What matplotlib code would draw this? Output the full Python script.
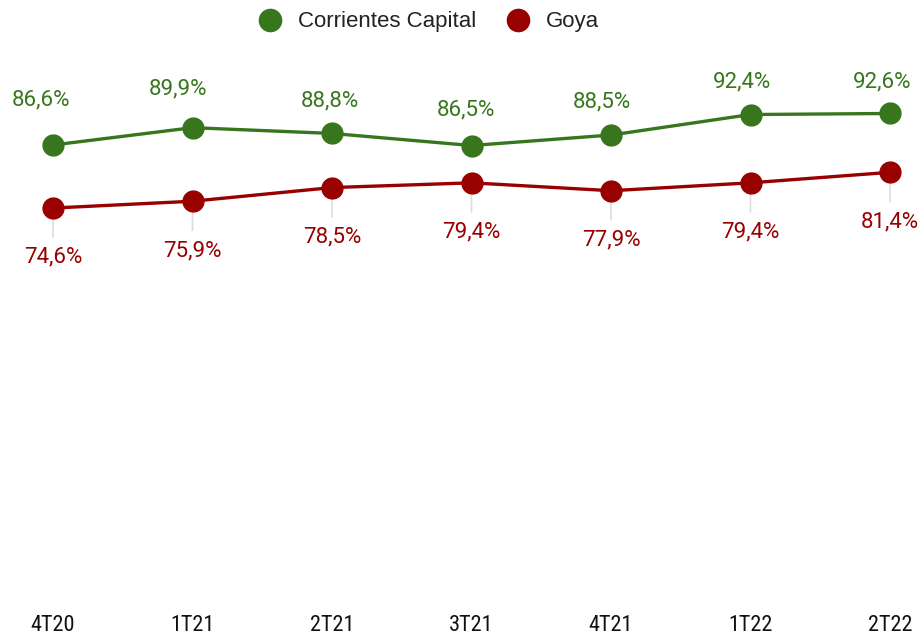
import matplotlib.pyplot as plt
from matplotlib.lines import Line2D
from matplotlib import font_manager

quarters = ['4T20', '1T21', '2T21', '3T21', '4T21', '1T22', '2T22']
capital = [86.6, 89.9, 88.8, 86.5, 88.5, 92.4, 92.6]
goya = [74.6, 75.9, 78.5, 79.4, 77.9, 79.4, 81.4]

green = '#38761d'
red = '#990000'

# label nudges (pixels) for the green labels, as placed in the original
green_dx = [-12, -15, -2, -6, -9, -8, -8]
green_dy = [45, 39, 33, 36, 33, 33, 32]

plt.rcParams['font.family'] = ['Roboto', 'DejaVu Sans']

names = {f.name for f in font_manager.fontManager.ttflist}
tick_family = 'Roboto'
for cand in ['Liberation Sans Narrow', 'Roboto Condensed', 'Open Sans Condensed']:
    if cand in names:
        tick_family = cand
        break

fig = plt.figure(figsize=(9.23, 6.4), dpi=100)
ax = fig.add_axes([53 / 923, 40 / 640, 837 / 923, 525.4 / 640])

x = list(range(len(quarters)))
ax.plot(x, capital, color=green, lw=2.4, marker='o', ms=15, zorder=3, clip_on=False)
ax.plot(x, goya, color=red, lw=2.4, marker='o', ms=15, zorder=3, clip_on=False)

def fmt(v):
    return f'{v:.1f}%'.replace('.', ',')

px = 72 / 100
for i, v in enumerate(capital):
    ax.annotate(fmt(v), (i, v), xytext=(green_dx[i] * px, green_dy[i] * px),
                textcoords='offset points', ha='center', va='center',
                color=green, fontsize=16, annotation_clip=False)
for i, v in enumerate(goya):
    ax.annotate(fmt(v), (i, v), xytext=(0, -35.5), textcoords='offset points',
                ha='center', va='center', color=red, fontsize=16,
                annotation_clip=False)
    ax.annotate('', (i, v), xytext=(0, -23), textcoords='offset points',
                arrowprops=dict(arrowstyle='-', color='#dddddd', lw=1.2),
                annotation_clip=False, zorder=1)

ax.set_xlim(0, 6)
ax.set_ylim(0, 100)
ax.set_yticks([])
ax.set_xticks(x)
ax.set_xticklabels(quarters, family=tick_family, fontsize=16, color='#111111')
ax.tick_params(axis='x', length=0, pad=10.5)
for s in ax.spines.values():
    s.set_visible(False)

handles = [Line2D([], [], color=green, marker='o', ls='', ms=16),
           Line2D([], [], color=red, marker='o', ls='', ms=16)]
fig.legend(handles, ['Corrientes Capital', 'Goya'], loc='center',
           bbox_to_anchor=(428 / 923, 1 - 22 / 640), ncol=2, frameon=False,
           prop={'family': ['Liberation Sans', 'DejaVu Sans'], 'size': 16},
           handlelength=1.2, handletextpad=0.66, columnspacing=1.25,
           labelcolor='#222222')

fig.savefig('out.png', dpi=100)
